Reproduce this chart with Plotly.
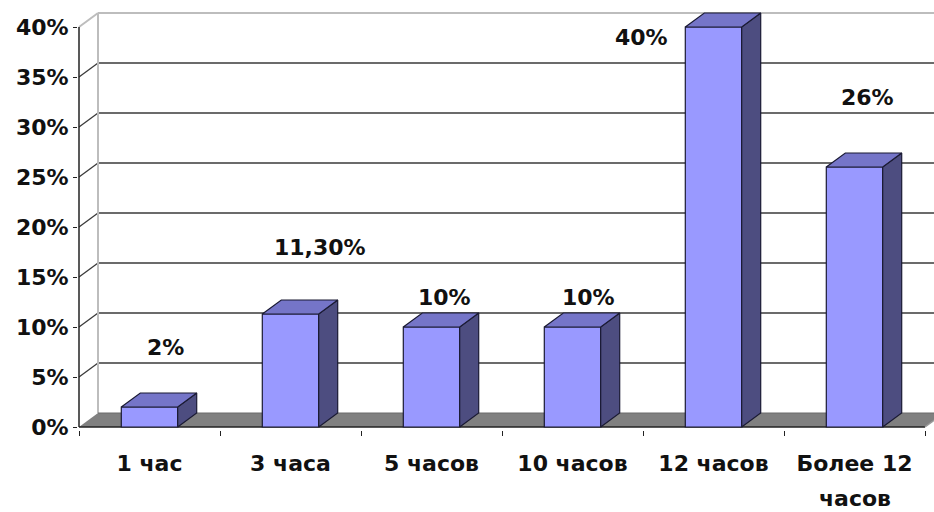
import plotly.graph_objects as go

# ---- data ----
categories = ["1 час", "3 часа", "5 часов", "10 часов", "12 часов", "Более 12 часов"]
values = [2, 11.3, 10, 10, 40, 26]
value_labels = ["2%", "11,30%", "10%", "10%", "40%", "26%"]
y_ticks = [0, 5, 10, 15, 20, 25, 30, 35, 40]
y_tick_labels = ["0%", "5%", "10%", "15%", "20%", "25%", "30%", "35%", "40%"]

# ---- style / geometry (pixel-based 3D offsets) ----
PX_X = 141.0          # pixels per category
PX_Y = 10.0           # pixels per percent
DX = 19 / PX_X        # depth offset in x (data units)
DY = 14 / PX_Y        # depth offset in y (data units)
BAR_W = 0.4
FRONT = "#9999FF"
TOP = "#7575C8"
SIDE = "#4D4D80"
FONT = dict(family="DejaVu Sans", size=22, color="#111111", weight="bold")
label_xshift = [16, 29, 13, 16, -72, 13]
label_yshift = [60, 67, 30, 30, -10, 70]

n = len(categories)
idx = list(range(n))
x0, x1 = -0.5, n - 0.5
xr = [x0 - 1 / PX_X, x1 + 9 / PX_X]
yr = [-0.3, 41.8]

fig = go.Figure()

shapes = []
# floor
shapes.append(dict(type="path", xref="x", yref="y", layer="below",
                   path=f"M {x0},0 L {x1},0 L {x1+DX},{DY} L {x0+DX},{DY} Z",
                   fillcolor="#808080", line=dict(width=0)))
# back wall gridlines and side-wall diagonals
for v in y_ticks:
    if v == 0:
        continue
    col = "#BDBDBD" if v == y_ticks[-1] else "#3A3A3A"
    w = 2 if v == y_ticks[-1] else 1.3
    shapes.append(dict(type="line", xref="x", yref="y", layer="below",
                       x0=x0, y0=v, x1=x0 + DX, y1=v + DY, line=dict(color=col, width=w)))
    shapes.append(dict(type="line", xref="x", yref="y", layer="below",
                       x0=x0 + DX, y0=v + DY, x1=x1 + DX + 1, y1=v + DY,
                       line=dict(color=col, width=w)))
# back-left vertical wall edge
shapes.append(dict(type="line", xref="x", yref="y", layer="below",
                   x0=x0 + DX, y0=DY, x1=x0 + DX, y1=y_ticks[-1] + DY,
                   line=dict(color="#BDBDBD", width=2)))
# floor front edge and right diagonal
shapes.append(dict(type="line", xref="x", yref="y", layer="below",
                   x0=x0, y0=0, x1=x1, y1=0, line=dict(color="#222222", width=1.5)))
shapes.append(dict(type="line", xref="x", yref="y", layer="below",
                   x0=x1, y0=0, x1=x1 + DX, y1=DY, line=dict(color="#9A9A9A", width=1.5)))
shapes.append(dict(type="line", xref="x", yref="y", layer="below",
                   x0=x0 + DX, y0=DY, x1=x1 + DX, y1=DY, line=dict(color="#6A6A6A", width=1)))
# front value axis line
shapes.append(dict(type="line", xref="x", yref="y", layer="below",
                   x0=x0, y0=0, x1=x0, y1=y_ticks[-1], line=dict(color="#222222", width=1.5)))

# front faces
fig.add_trace(go.Bar(x=idx, y=values, width=BAR_W,
                     marker=dict(color=FRONT, line=dict(color="#1A1A33", width=1.2)),
                     hoverinfo="skip", showlegend=False))

# side and top faces
sx, sy, tx, ty = [], [], [], []
for i, v in zip(idx, values):
    l, r = i - BAR_W / 2, i + BAR_W / 2
    sx += [r, r + DX, r + DX, r, r, None]
    sy += [0, DY, v + DY, v, 0, None]
    tx += [l, r, r + DX, l + DX, l, None]
    ty += [v, v, v + DY, v + DY, v, None]
fig.add_trace(go.Scatter(x=sx, y=sy, mode="lines", fill="toself", fillcolor=SIDE,
                         line=dict(color="#1A1A33", width=1.2), hoverinfo="skip",
                         showlegend=False))
fig.add_trace(go.Scatter(x=tx, y=ty, mode="lines", fill="toself", fillcolor=TOP,
                         line=dict(color="#1A1A33", width=1.2), hoverinfo="skip",
                         showlegend=False))

annotations = []
for i, v, t, xs, ys in zip(idx, values, value_labels, label_xshift, label_yshift):
    annotations.append(dict(x=i, y=v, xref="x", yref="y", text=t, showarrow=False,
                            xshift=xs, yshift=ys, font=FONT))

# category labels: first line on the axis, wrapped second line below
tick_text = []
for i, c in enumerate(categories):
    words = c.split(" ")
    if len(words) > 2:
        tick_text.append(" ".join(words[:-1]))
        annotations.append(dict(x=i, y=0, xref="x", yref="y", text=words[-1],
                                showarrow=False, yshift=-71, font=FONT))
    else:
        tick_text.append(c)

fig.update_layout(
    width=934, height=512,
    margin=dict(l=78, r=0, t=9, b=82),
    paper_bgcolor="white", plot_bgcolor="white",
    shapes=shapes, annotations=annotations,
    showlegend=False,
    xaxis=dict(range=xr, tickvals=idx, ticktext=tick_text, showgrid=False,
               zeroline=False, showline=False, ticks="outside", ticklen=14,
               tickcolor="rgba(0,0,0,0)", tickfont=FONT,
               minor=dict(ticks="outside", tick0=-0.5, dtick=1, ticklen=5,
                          tickcolor="#222222", tickwidth=1.2, showgrid=False),
               fixedrange=True),
    yaxis=dict(range=yr, tickvals=y_ticks, ticktext=y_tick_labels, showgrid=False,
               zeroline=False, showline=False, ticks="outside", ticklen=4,
               tickcolor="#222222", tickwidth=1.2, tickfont=FONT, fixedrange=True),
)

fig.write_html("out.html")
